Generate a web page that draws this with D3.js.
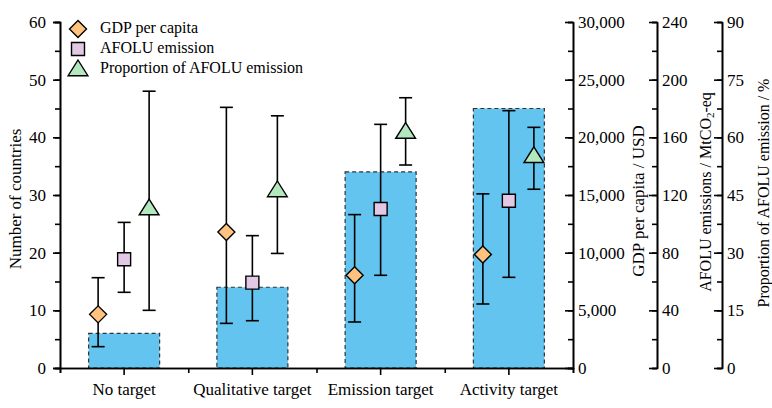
<!DOCTYPE html>
<html><head><meta charset="utf-8">
<script src="https://cdn.jsdelivr.net/npm/d3@7"></script>
<style>body{margin:0;background:#fff}text{font-family:"Liberation Serif","Times New Roman",serif;fill:#000}</style>
</head><body>
<svg id="c" width="772" height="408" font-family="Liberation Serif"></svg>
<script>
const categories = ["No target", "Qualitative target", "Emission target", "Activity target"];
const countries = [6, 14, 34, 45];
const gdpMean = [4650, 11800, 8050, 9850];
const gdpLow = [1850, 3870, 3990, 5550];
const gdpHigh = [7830, 22600, 13300, 15100];
const afoluMean = [75.4, 59.2, 110.3, 116];
const afoluLow = [52.5, 32.8, 64.3, 62.9];
const afoluHigh = [101, 91.8, 169, 178.5];
const propMean = [41.6, 46.3, 61.5, 55.2];
const propLow = [15, 29.8, 52.8, 46.5];
const propHigh = [72, 65.6, 70.3, 62.6];
const leftTicks = [0, 10, 20, 30, 40, 50, 60];
const gdpTicks = [0, 5000, 10000, 15000, 20000, 25000, 30000];
const afoluTicks = [0, 40, 80, 120, 160, 200, 240];
const propTicks = [0, 15, 30, 45, 60, 75, 90];

const svg = d3.select("#c");
const L = 60, R = 573, T = 22, B = 368;
const x = d3.scaleBand().domain(categories).range([L, R]);
const y = d3.scaleLinear().domain([0, 60]).range([B, T]);
const yG = d3.scaleLinear().domain([0, 30000]).range([B, T]);
const yA = d3.scaleLinear().domain([0, 240]).range([B, T]);
const yP = d3.scaleLinear().domain([0, 90]).range([B, T]);
const cx = c => x(c) + x.bandwidth() / 2;
const barW = 71;

// bars
svg.append("g").selectAll("rect").data(categories).join("rect")
  .attr("x", c => cx(c) - barW / 2).attr("width", barW)
  .attr("y", (c, i) => y(countries[i])).attr("height", (c, i) => B - y(countries[i]))
  .attr("fill", "#62C4EF").attr("stroke", "#333").attr("stroke-width", 1.2)
  .attr("stroke-dasharray", "4,3");

// axes
function styleAxis(g, size) {
  g.attr("font-family", "Liberation Serif");
  g.select(".domain").attr("stroke", "#000").attr("stroke-width", 1.6);
  g.selectAll(".tick line").attr("stroke", "#000").attr("stroke-width", 1.6);
  g.selectAll("text").style("font-family", '"Liberation Serif",serif').style("font-size", (size || 17) + "px").attr("fill", "#000");
}
const minor = (max, step) => d3.range(0, max + step / 2, step);

// left
svg.append("g").attr("transform", `translate(${L},0)`)
  .call(d3.axisLeft(y).tickValues(minor(60, 5)).tickSize(5).tickFormat("")).call(styleAxis);
svg.append("g").attr("transform", `translate(${L},0)`)
  .call(d3.axisLeft(y).tickValues(leftTicks).tickSize(7).tickPadding(7)).call(styleAxis);

// bottom
svg.append("g").attr("transform", `translate(0,${B})`)
  .call(d3.axisBottom(d3.scaleLinear().domain([0, 4]).range([L, R])).tickValues([0, 1, 2, 3, 4]).tickSize(5).tickFormat("")).call(styleAxis);
svg.append("g").attr("transform", `translate(0,${B})`)
  .call(d3.axisBottom(x).tickSize(7).tickPadding(8).tickSizeOuter(0)).call(g => styleAxis(g, 17));

// right axes
function rightAxis(xp, scale, ticks, fmt) {
  const step = ticks[1] - ticks[0];
  svg.append("g").attr("transform", `translate(${xp},0)`)
    .call(d3.axisRight(scale).tickValues(minor(ticks[ticks.length - 1], step / 2)).tickSize(-5).tickFormat("")).call(styleAxis);
  svg.append("g").attr("transform", `translate(${xp},0)`)
    .call(d3.axisRight(scale).tickValues(ticks).tickSizeInner(-8).tickSizeOuter(0).tickPadding(5).tickFormat(fmt)).call(styleAxis);
}
rightAxis(R, yG, gdpTicks, d3.format(","));
rightAxis(657, yA, afoluTicks, d3.format("d"));
rightAxis(722, yP, propTicks, d3.format("d"));

// axis titles
function vtitle(xp, yc, txt, size) {
  return svg.append("text").attr("transform", `translate(${xp},${yc}) rotate(-90)`)
    .attr("text-anchor", "middle").attr("dominant-baseline", "middle").style("font-size", size + "px").text(txt);
}
vtitle(17, 199, "Number of countries", 17);
vtitle(640, 201, "GDP per capita / USD", 17);
const t2 = svg.append("text").attr("transform", `translate(707,192) rotate(-90)`)
  .attr("text-anchor", "middle").attr("dominant-baseline", "middle").style("font-size", "16px");
t2.append("tspan").text("AFOLU emissions / MtCO");
t2.append("tspan").text("2").style("font-size", "11px").attr("dy", 4);
t2.append("tspan").text("-eq").attr("dy", -4);
vtitle(765, 193, "Proportion of AFOLU emission / %", 16);

// markers
const diamond = s => `M0,${-s}L${s},0L0,${s}L${-s},0Z`;
const square = s => `M${-s},${-s}H${s}V${s}H${-s}Z`;
const tri = s => `M0,${-s}L${s * 1.1},${s * 0.75}L${-s * 1.1},${s * 0.75}Z`;
const series = [
  {off: -26, sc: yG, m: gdpMean, lo: gdpLow, hi: gdpHigh, path: diamond(8.5), fill: "#FFC27F", name: "GDP per capita"},
  {off: 0, sc: yA, m: afoluMean, lo: afoluLow, hi: afoluHigh, path: square(6.5), fill: "#E3C8E6", name: "AFOLU emission"},
  {off: 25, sc: yP, m: propMean, lo: propLow, hi: propHigh, path: tri(9), fill: "#B3E8BE", name: "Proportion of AFOLU emission"}
];
const cap = 6.5;
series.forEach(s => {
  const g = svg.append("g");
  categories.forEach((c, i) => {
    const px = cx(c) + s.off;
    g.append("line").attr("x1", px).attr("x2", px).attr("y1", s.sc(s.lo[i])).attr("y2", s.sc(s.hi[i])).attr("stroke", "#000").attr("stroke-width", 1.6);
    [s.lo[i], s.hi[i]].forEach(v => g.append("line").attr("x1", px - cap).attr("x2", px + cap).attr("y1", s.sc(v)).attr("y2", s.sc(v)).attr("stroke", "#000").attr("stroke-width", 1.6));
    g.append("path").attr("d", s.path).attr("transform", `translate(${px},${s.sc(s.m[i])})`)
      .attr("fill", s.fill).attr("stroke", "#000").attr("stroke-width", 1.4);
  });
});

// legend
series.forEach((s, i) => {
  const yy = 29 + i * 20;
  svg.append("path").attr("d", s.path).attr("transform", `translate(78,${yy})`)
    .attr("fill", s.fill).attr("stroke", "#000").attr("stroke-width", 1.4);
  svg.append("text").attr("x", 100).attr("y", yy).attr("dominant-baseline", "middle").style("font-size", "16px").text(s.name);
});
</script>
</body></html>
